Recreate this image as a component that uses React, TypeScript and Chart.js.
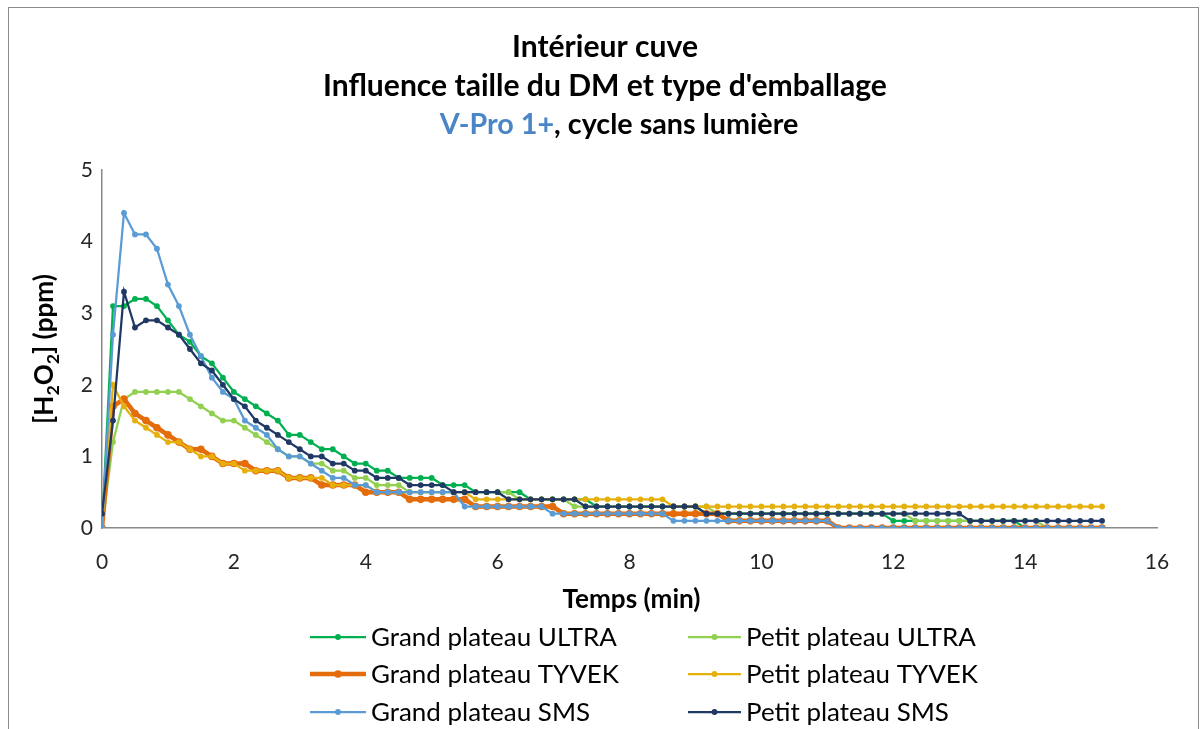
import React, { useEffect, useRef } from "react";
import { Chart, registerables } from "chart.js";

Chart.register(...registerables);

// Sampling times (seconds)
const timeSeconds = [
  0, 10, 20, 30, 40, 50, 60, 70, 80, 90,
  100, 110, 120, 130, 140, 150, 160, 170, 180, 190,
  200, 210, 220, 230, 240, 250, 260, 270, 280, 290,
  300, 310, 320, 330, 340, 350, 360, 370, 380, 390,
  400, 410, 420, 430, 440, 450, 460, 470, 480, 490,
  500, 510, 520, 530, 540, 550, 560, 570, 580, 590,
  600, 610, 620, 630, 640, 650, 660, 670, 680, 690,
  700, 710, 720, 730, 740, 750, 760, 770, 780, 790,
  800, 810, 820, 830, 840, 850, 860, 870, 880, 890,
  900, 910,
];

const grandUltra = [
  0, 3.1, 3.1, 3.2, 3.2, 3.1, 2.9, 2.7, 2.6, 2.4,
  2.3, 2.1, 1.9, 1.8, 1.7, 1.6, 1.5, 1.3, 1.3, 1.2,
  1.1, 1.1, 1.0, 0.9, 0.9, 0.8, 0.8, 0.7, 0.7, 0.7,
  0.7, 0.6, 0.6, 0.6, 0.5, 0.5, 0.5, 0.5, 0.5, 0.4,
  0.4, 0.4, 0.4, 0.4, 0.4, 0.3, 0.3, 0.3, 0.3, 0.3,
  0.3, 0.3, 0.3, 0.3, 0.3, 0.2, 0.2, 0.2, 0.2, 0.2,
  0.2, 0.2, 0.2, 0.2, 0.2, 0.2, 0.2, 0.2, 0.2, 0.2,
  0.2, 0.2, 0.1, 0.1, 0.1, 0.1, 0.1, 0.1, 0.1, 0.1,
  0.1, 0.1, 0.1, 0.1, 0, 0, 0, 0, 0, 0,
  0, 0,
];

const petitUltra = [
  0, 1.2, 1.8, 1.9, 1.9, 1.9, 1.9, 1.9, 1.8, 1.7,
  1.6, 1.5, 1.5, 1.4, 1.3, 1.2, 1.1, 1.0, 1.0, 0.9,
  0.9, 0.8, 0.8, 0.7, 0.7, 0.6, 0.6, 0.6, 0.5, 0.5,
  0.5, 0.5, 0.5, 0.5, 0.5, 0.5, 0.5, 0.5, 0.4, 0.4,
  0.4, 0.4, 0.4, 0.3, 0.3, 0.3, 0.3, 0.3, 0.3, 0.3,
  0.3, 0.3, 0.3, 0.3, 0.3, 0.3, 0.2, 0.2, 0.2, 0.2,
  0.2, 0.2, 0.2, 0.2, 0.2, 0.2, 0.2, 0.2, 0.2, 0.2,
  0.2, 0.2, 0.2, 0.2, 0.1, 0.1, 0.1, 0.1, 0.1, 0.1,
  0.1, 0.1, 0.1, 0.1, 0.1, 0.1, 0, 0, 0, 0,
  0, 0,
];

const grandTyvek = [
  0, 1.7, 1.8, 1.6, 1.5, 1.4, 1.3, 1.2, 1.1, 1.1,
  1.0, 0.9, 0.9, 0.9, 0.8, 0.8, 0.8, 0.7, 0.7, 0.7,
  0.6, 0.6, 0.6, 0.6, 0.5, 0.5, 0.5, 0.5, 0.4, 0.4,
  0.4, 0.4, 0.4, 0.4, 0.3, 0.3, 0.3, 0.3, 0.3, 0.3,
  0.3, 0.3, 0.2, 0.2, 0.2, 0.2, 0.2, 0.2, 0.2, 0.2,
  0.2, 0.2, 0.2, 0.2, 0.2, 0.2, 0.2, 0.1, 0.1, 0.1,
  0.1, 0.1, 0.1, 0.1, 0.1, 0.1, 0.1, 0, 0, 0,
  0, 0, 0, 0, 0, 0, 0, 0, 0, 0,
  0, 0, 0, 0, 0, 0, 0, 0, 0, 0,
  0, 0,
];

const petitTyvek = [
  0, 2.0, 1.7, 1.5, 1.4, 1.3, 1.2, 1.2, 1.1, 1.0,
  1.0, 0.9, 0.9, 0.8, 0.8, 0.8, 0.8, 0.7, 0.7, 0.7,
  0.7, 0.6, 0.6, 0.6, 0.6, 0.5, 0.5, 0.5, 0.5, 0.5,
  0.5, 0.5, 0.5, 0.5, 0.4, 0.4, 0.4, 0.4, 0.4, 0.4,
  0.4, 0.4, 0.4, 0.4, 0.4, 0.4, 0.4, 0.4, 0.4, 0.4,
  0.4, 0.4, 0.3, 0.3, 0.3, 0.3, 0.3, 0.3, 0.3, 0.3,
  0.3, 0.3, 0.3, 0.3, 0.3, 0.3, 0.3, 0.3, 0.3, 0.3,
  0.3, 0.3, 0.3, 0.3, 0.3, 0.3, 0.3, 0.3, 0.3, 0.3,
  0.3, 0.3, 0.3, 0.3, 0.3, 0.3, 0.3, 0.3, 0.3, 0.3,
  0.3, 0.3,
];

const grandSms = [
  0, 2.7, 4.4, 4.1, 4.1, 3.9, 3.4, 3.1, 2.7, 2.4,
  2.1, 1.9, 1.8, 1.5, 1.4, 1.3, 1.1, 1.0, 1.0, 0.9,
  0.8, 0.7, 0.7, 0.6, 0.6, 0.5, 0.5, 0.5, 0.5, 0.5,
  0.5, 0.5, 0.5, 0.3, 0.3, 0.3, 0.3, 0.3, 0.3, 0.3,
  0.3, 0.2, 0.2, 0.2, 0.2, 0.2, 0.2, 0.2, 0.2, 0.2,
  0.2, 0.2, 0.1, 0.1, 0.1, 0.1, 0.1, 0.1, 0.1, 0.1,
  0.1, 0.1, 0.1, 0.1, 0.1, 0.1, 0.1, 0, 0, 0,
  0, 0, 0, 0, 0, 0, 0, 0, 0, 0,
  0, 0, 0, 0, 0, 0, 0, 0, 0, 0,
  0, 0,
];

const petitSms = [
  0.2, 1.5, 3.3, 2.8, 2.9, 2.9, 2.8, 2.7, 2.5, 2.3,
  2.2, 2.0, 1.8, 1.7, 1.5, 1.4, 1.3, 1.2, 1.1, 1.0,
  1.0, 0.9, 0.9, 0.8, 0.8, 0.7, 0.7, 0.7, 0.6, 0.6,
  0.6, 0.6, 0.5, 0.5, 0.5, 0.5, 0.5, 0.4, 0.4, 0.4,
  0.4, 0.4, 0.4, 0.4, 0.3, 0.3, 0.3, 0.3, 0.3, 0.3,
  0.3, 0.3, 0.3, 0.3, 0.3, 0.2, 0.2, 0.2, 0.2, 0.2,
  0.2, 0.2, 0.2, 0.2, 0.2, 0.2, 0.2, 0.2, 0.2, 0.2,
  0.2, 0.2, 0.2, 0.2, 0.2, 0.2, 0.2, 0.2, 0.2, 0.1,
  0.1, 0.1, 0.1, 0.1, 0.1, 0.1, 0.1, 0.1, 0.1, 0.1,
  0.1, 0.1,
];

const seriesNames = [
  "Grand plateau ULTRA",
  "Petit plateau ULTRA",
  "Grand plateau TYVEK",
  "Petit plateau TYVEK",
  "Grand plateau SMS",
  "Petit plateau SMS",
];
const seriesValues = [grandUltra, petitUltra, grandTyvek, petitTyvek, grandSms, petitSms];
const seriesColors = ["#00B050", "#92D050", "#E46C0A", "#E6B00C", "#5B9BD5", "#1F3864"];
const seriesLineWidths = [2.25, 2.25, 4.5, 2.25, 2.25, 2.25];
const seriesPointRadius = [2.9, 2.9, 3.8, 2.9, 2.9, 2.9];

const titleLine1 = "Intérieur cuve";
const titleLine2 = "Influence taille du DM et type d'emballage";
const titleLine3Blue = "V-Pro 1+";
const titleLine3Rest = ", cycle sans lumière";
const xAxisTitle = "Temps (min)";
const yAxisTitleParts = [
  { t: "[H", sub: false },
  { t: "2", sub: true },
  { t: "O", sub: false },
  { t: "2", sub: true },
  { t: "] (ppm)", sub: false },
];

const FONT = "Lato, 'Noto Sans', sans-serif";

function fitSize(ctx: CanvasRenderingContext2D, text: string, weight: string, target: number) {
  ctx.font = `${weight} 100px ${FONT}`;
  const w = ctx.measureText(text).width;
  return (100 * target) / w;
}

const decorPlugin = {
  id: "decor",
  beforeDraw(chart: any) {
    const ctx: CanvasRenderingContext2D = chart.ctx;
    ctx.save();
    ctx.fillStyle = "#ffffff";
    ctx.fillRect(0, 0, chart.width, chart.height);
    ctx.strokeStyle = "#8c8c8c";
    ctx.lineWidth = 1;
    ctx.strokeRect(8.5, 7.5, 1190, 760);
    ctx.restore();
  },
  afterDraw(chart: any) {
    const ctx: CanvasRenderingContext2D = chart.ctx;
    const area = chart.chartArea;
    ctx.save();
    // Title
    const tSize = fitSize(ctx, titleLine2, "bold", 564);
    ctx.font = `bold ${tSize}px ${FONT}`;
    ctx.fillStyle = "#000";
    ctx.textBaseline = "middle";
    ctx.textAlign = "center";
    ctx.fillText(titleLine1, 605, 47);
    ctx.fillText(titleLine2, 605, 86);
    const t3Size = fitSize(ctx, titleLine3Blue + titleLine3Rest, "bold", 345);
    const t3 = Math.min(tSize, t3Size * 1.04);
    ctx.font = `bold ${t3}px ${FONT}`;
    ctx.textAlign = "left";
    const w1 = ctx.measureText(titleLine3Blue).width;
    const w2 = ctx.measureText(titleLine3Rest).width;
    const x3 = 619 - (w1 + w2) / 2;
    ctx.fillStyle = "#4A86C6";
    ctx.fillText(titleLine3Blue, x3, 125);
    ctx.fillStyle = "#000";
    ctx.fillText(titleLine3Rest, x3 + w1, 125);

    // X axis title
    const xs = fitSize(ctx, xAxisTitle, "bold", 138);
    ctx.font = `bold ${xs}px ${FONT}`;
    ctx.textAlign = "center";
    ctx.fillStyle = "#000";
    ctx.fillText(xAxisTitle, (area.left + area.right) / 2 + 2, 600);

    // Y axis title (rotated, with subscripts)
    const ySize = xs;
    const subSize = ySize * 0.68;
    let total = 0;
    const widths: number[] = [];
    yAxisTitleParts.forEach((p) => {
      ctx.font = `bold ${p.sub ? subSize : ySize}px ${FONT}`;
      const w = ctx.measureText(p.t).width;
      widths.push(w);
      total += w;
    });
    ctx.translate(45, (area.top + area.bottom) / 2);
    ctx.rotate(-Math.PI / 2);
    let px = -total / 2;
    ctx.textAlign = "left";
    yAxisTitleParts.forEach((p, i) => {
      ctx.font = `bold ${p.sub ? subSize : ySize}px ${FONT}`;
      ctx.fillText(p.t, px, p.sub ? ySize * 0.3 : 0);
      px += widths[i];
    });
    ctx.setTransform(1, 0, 0, 1, 0, 0);

    // Legend
    const lSize = fitSize(ctx, seriesNames[0], "normal", 246);
    ctx.font = `normal ${lSize}px ${FONT}`;
    ctx.textAlign = "left";
    ctx.textBaseline = "middle";
    const colLine = [
      [310, 366],
      [688, 741],
    ];
    const colText = [371, 746];
    const rowY = [637, 674, 712];
    seriesNames.forEach((name, k) => {
      const col = k % 2;
      const row = Math.floor(k / 2);
      const y = rowY[row];
      const [a, b] = colLine[col];
      ctx.strokeStyle = seriesColors[k];
      ctx.lineWidth = seriesLineWidths[k];
      ctx.beginPath();
      ctx.moveTo(a, y);
      ctx.lineTo(b, y);
      ctx.stroke();
      ctx.fillStyle = seriesColors[k];
      ctx.beginPath();
      ctx.arc((a + b) / 2, y, seriesPointRadius[k], 0, Math.PI * 2);
      ctx.fill();
      ctx.fillStyle = "#000";
      ctx.fillText(name, colText[col], y + 1);
    });
    ctx.restore();
  },
};

export default function App() {
  const canvasRef = useRef<HTMLCanvasElement | null>(null);

  useEffect(() => {
    const canvas = canvasRef.current;
    if (!canvas) return;
    const datasets = seriesNames.map((name, k) => ({
      label: name,
      data: timeSeconds.map((s, i) => ({ x: s / 60, y: seriesValues[k][i] })),
      borderColor: seriesColors[k],
      backgroundColor: seriesColors[k],
      pointBackgroundColor: seriesColors[k],
      pointBorderColor: seriesColors[k],
      borderWidth: seriesLineWidths[k],
      pointRadius: seriesPointRadius[k],
      pointBorderWidth: 0,
      tension: 0,
      fill: false,
      order: seriesNames.length - 1 - k,
    }));

    const chart = new Chart(canvas, {
      type: "line",
      data: { datasets },
      options: {
        responsive: false,
        animation: false,
        events: [],
        layout: { padding: { top: 170, right: 45, bottom: 0, left: 0 } },
        plugins: {
          legend: { display: false },
          title: { display: false },
          tooltip: { enabled: false },
        },
        scales: {
          x: {
            type: "linear",
            min: 0,
            max: 16,
            grid: { display: false, drawTicks: false },
            border: { display: true, color: "#898989", width: 1.5 },
            ticks: {
              stepSize: 2,
              padding: 22,
              color: "#262626",
              font: { family: FONT, size: 21 },
              maxRotation: 0,
            },
            afterFit: (scale: any) => {
              scale.height = 201;
            },
          },
          y: {
            type: "linear",
            min: 0,
            max: 5,
            grid: { display: false, drawTicks: false },
            border: { display: true, color: "#898989", width: 1.5 },
            ticks: {
              stepSize: 1,
              padding: 9,
              color: "#262626",
              font: { family: FONT, size: 21 },
            },
            afterFit: (scale: any) => {
              scale.width = 102;
            },
          },
        },
      },
      plugins: [decorPlugin],
    } as any);

    return () => {
      chart.destroy();
    };
  }, []);

  return (
    <div style={{ position: "absolute", left: 0, top: 0, width: 1202, height: 729, overflow: "hidden" }}>
      <canvas ref={canvasRef} width={1202} height={729} style={{ display: "block" }} />
    </div>
  );
}
